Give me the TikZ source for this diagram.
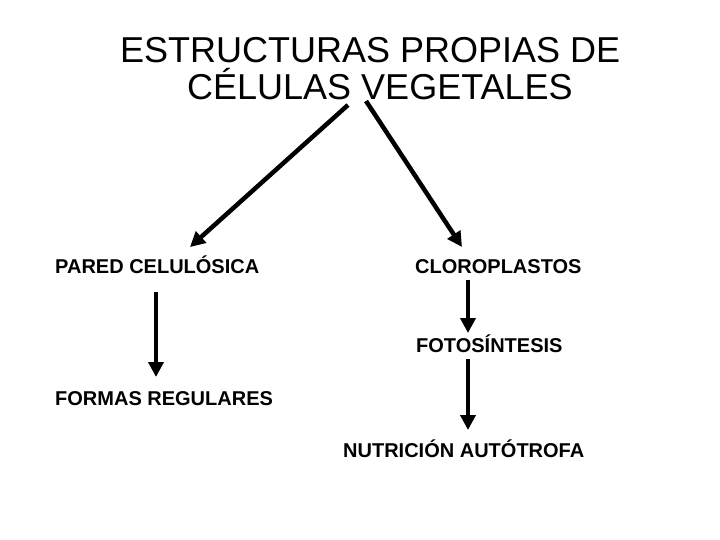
\documentclass[tikz,border=0pt]{standalone}
\usepackage{fontspec}
\setmainfont{Liberation Sans}
\usetikzlibrary{arrows.meta}

\begin{document}
\begin{tikzpicture}[
    x=1pt, y=-1pt,
    title/.style={inner sep=0pt, anchor=base west, font=\fontsize{36}{40}\selectfont},
    lbl/.style={inner sep=0pt, anchor=base west, font=\bfseries\fontsize{20}{22}\selectfont},
    arr/.style={line width=4.5pt, -{Triangle[length=15pt,width=15pt]}}
]
    \useasboundingbox (0,0) rectangle (720,540);

    % Title
    \node[title] (title1) at (120,63) {ESTRUCTURAS PROPIAS DE};
    \node[title] (title2) at (187,100) {CÉLULAS VEGETALES};

    % Left branch
    \node[lbl] (pared) at (55,273) {PARED CELULÓSICA};
    \node[lbl] (formas) at (55,405) {FORMAS REGULARES};

    % Right branch
    \node[lbl] (cloro) at (415,273) {CLOROPLASTOS};
    \node[lbl] (foto) at (416,352) {FOTOSÍNTESIS};
    \node[lbl] (nutri) at (343,457) {NUTRICIÓN AUTÓTROFA};

    % Edges
    \draw[arr] ([xshift=161pt,yshift=-5pt]title2.base west) -- ([xshift=135pt,yshift=26pt]pared.base west);
    \draw[arr] ([xshift=179pt,yshift=-1pt]title2.base west) -- ([xshift=47pt,yshift=26pt]cloro.base west);
    \draw[arr] ([xshift=101pt,yshift=-19pt]pared.base west) -- ([xshift=101pt,yshift=28pt]formas.base west);
    \draw[arr] ([xshift=53pt,yshift=-7pt]cloro.base west) -- ([xshift=52pt,yshift=19pt]foto.base west);
    \draw[arr] ([xshift=52pt,yshift=-7pt]foto.base west) -- ([xshift=125pt,yshift=27pt]nutri.base west);
\end{tikzpicture}
\end{document}
